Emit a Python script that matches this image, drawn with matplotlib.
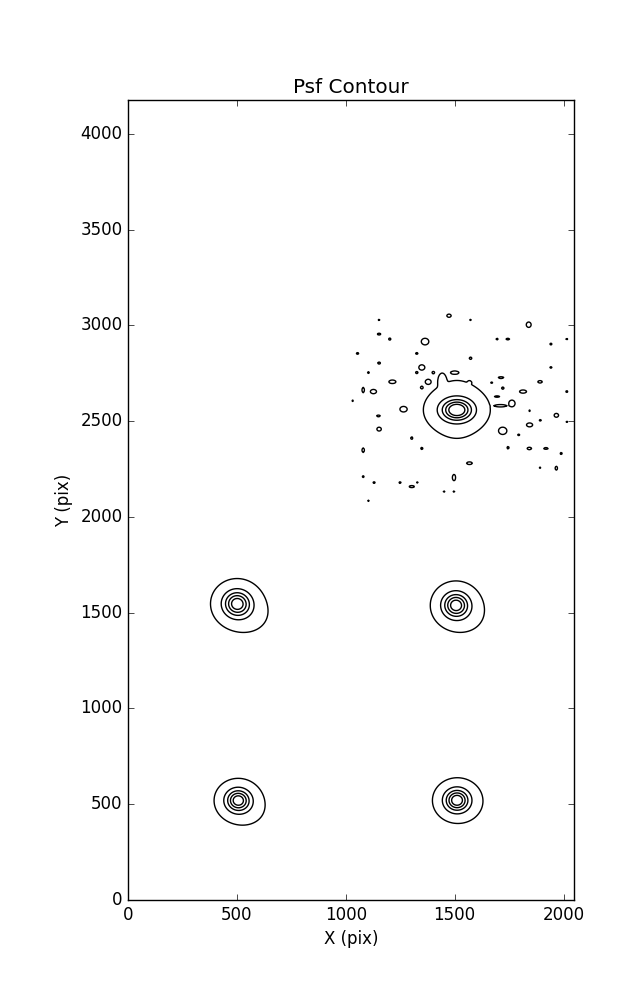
import numpy as np
import matplotlib
matplotlib.use('Agg')
import matplotlib.pyplot as plt

# detector size (pix)
nx_pix = 2048
ny_pix = 4176

# PSF cores: centre, width (pix)
star_x = [500, 1505, 505, 1510, 1510]
star_y = [1548, 1540, 521, 521, 2558]
star_sx = [52, 50, 47, 47, 60]
star_sy = [56, 54, 49, 49, 47]
# faint wing offset from each core (makes outer contour lopsided)
wing_dx = [55, 45, 45, 25, 0]
wing_dy = [-60, -55, -50, -15, 5]
wing_amp = [0.12, 0.1, 0.1, 0.08, 0.12]
wing_sx = [70, 70, 65, 70, 95]
wing_sy = [70, 70, 65, 70, 135]

# small noise islands around the top psf: x, y, half width, half height (pix)
blob_x = [1474, 1153, 1573, 1840, 1153, 1202, 1364, 1695, 1744, 1942, 2015,
          1054, 1326, 1573, 1153, 1349, 1104, 1326, 1402, 1500, 1942, 1713,
          1214, 1378, 1568, 1670, 1892, 1080, 1127, 1349, 1721, 1814, 2015,
          1031, 1695, 1713, 1763, 1265, 1150, 1844, 1967, 1893, 1844, 2015,
          1153, 1721, 1794, 1303, 1080, 1349, 1745, 1843, 1919, 1989, 1568,
          1892, 1967, 1497, 1080, 1130, 1249, 1303, 1329, 1451, 1497, 1104,
          1442]
blob_y = [3050, 3028, 3028, 3003, 2954, 2928, 2915, 2928, 2928, 2902, 2928,
          2853, 2853, 2828, 2803, 2780, 2753, 2753, 2753, 2753, 2780, 2727,
          2705, 2705, 2701, 2701, 2705, 2662, 2654, 2675, 2672, 2654, 2654,
          2606, 2628, 2580, 2592, 2562, 2527, 2554, 2530, 2504, 2480, 2496,
          2458, 2449, 2428, 2411, 2348, 2357, 2361, 2357, 2357, 2331, 2280,
          2257, 2254, 2205, 2210, 2179, 2179, 2158, 2179, 2132, 2132, 2084,
          2712]
blob_w = [10, 3, 3, 11, 8, 5, 17, 4, 8, 4, 3,
          5, 5, 5, 6, 13, 4, 5, 5, 14, 4, 12,
          16, 11, 6, 3, 10, 5, 14, 5, 5, 16, 4,
          3, 10, 25, 14, 16, 8, 3, 10, 4, 14, 3,
          10, 18, 4, 4, 5, 4, 4, 10, 10, 4, 12,
          3, 5, 7, 4, 4, 4, 12, 3, 3, 3, 3,
          14]
blob_h = [8, 3, 3, 14, 4, 5, 17, 4, 4, 4, 3,
          4, 4, 5, 5, 13, 4, 5, 5, 6, 4, 4,
          9, 11, 6, 3, 6, 14, 11, 6, 5, 8, 4,
          3, 3, 5, 17, 14, 4, 3, 10, 4, 10, 3,
          10, 18, 4, 6, 12, 5, 6, 6, 4, 5, 6,
          3, 10, 16, 4, 4, 4, 5, 3, 3, 3, 3,
          30]

levels = [0.07, 0.4, 0.63, 0.8, 0.94]

# build the image
x = np.arange(0, nx_pix + 1, 4.0)
y = np.arange(0, ny_pix + 1, 4.0)
X, Y = np.meshgrid(x, y)
Z = np.zeros_like(X)
for i in range(len(star_x)):
    Z += np.exp(-0.5 * (((X - star_x[i]) / star_sx[i]) ** 2 + ((Y - star_y[i]) / star_sy[i]) ** 2))
    wx = star_x[i] + wing_dx[i]
    wy = star_y[i] + wing_dy[i]
    Z += wing_amp[i] * np.exp(-0.5 * (((X - wx) / wing_sx[i]) ** 2 + ((Y - wy) / wing_sy[i]) ** 2))

k = 3.0
for i in range(len(blob_x)):
    r2 = ((X - blob_x[i]) / blob_w[i]) ** 2 + ((Y - blob_y[i]) / blob_h[i]) ** 2
    Z += levels[0] * k * np.exp(-np.log(k) * r2)

plt.style.use('classic')
fig = plt.figure(figsize=(6.37, 10), dpi=100, facecolor='white')
ax = fig.add_axes([128 / 637, 0.1, 446 / 637, 0.8])
ax.contour(X, Y, Z, levels=levels, colors='k', linewidths=1.0)
ax.set_xlim(0, nx_pix)
ax.set_ylim(0, ny_pix)
ax.set_title('Psf Contour')
ax.set_xlabel('X (pix)')
ax.set_ylabel('Y (pix)')

fig.savefig('out.png', dpi=100, facecolor='white')
